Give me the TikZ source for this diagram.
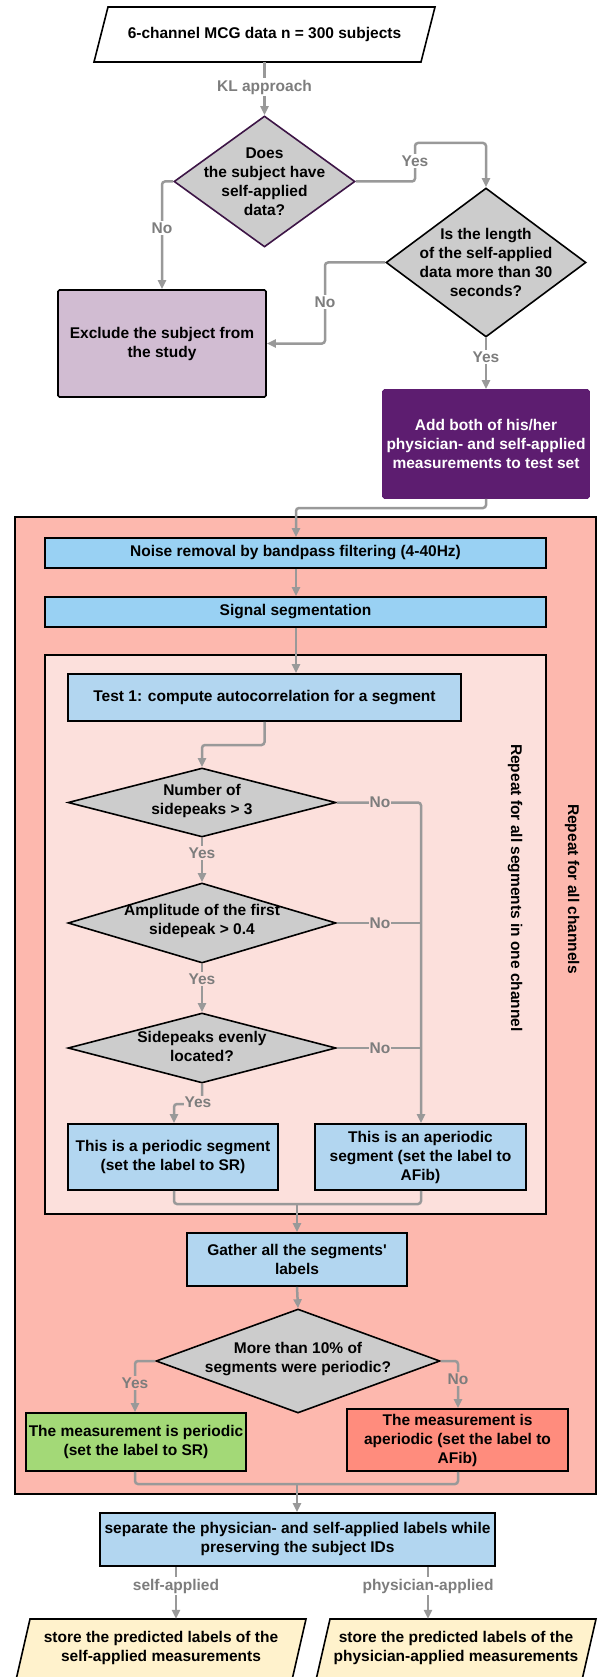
\documentclass[tikz,border=0pt]{standalone}
\usepackage{fontspec}
\setmainfont{Liberation Sans}
\usetikzlibrary{arrows.meta,shapes.geometric,calc}
\definecolor{linegray}{RGB}{153,153,153}
\definecolor{labelgray}{RGB}{125,125,125}
\definecolor{dfill}{RGB}{204,204,204}
\definecolor{dborder}{HTML}{3D1546}
\definecolor{exfill}{HTML}{D1BCD2}
\definecolor{purp}{HTML}{5D1D70}
\definecolor{outerfill}{HTML}{FDB8AE}
\definecolor{innerfill}{HTML}{FCE0DC}
\definecolor{nrfill}{HTML}{99D1F3}
\definecolor{bluefill}{HTML}{B2D6F0}
\definecolor{grfill}{HTML}{A3D977}
\definecolor{rdfill}{HTML}{FF8C7D}
\definecolor{cream}{HTML}{FFF2CC}
\newcommand\myfont{\fontsize{15.5}{19}\selectfont\bfseries}
\begin{document}
\begin{tikzpicture}[x=1pt,y=-1pt,
  conn/.style={draw=linegray,line width=2.5pt,rounded corners=3pt},
  arr/.style={conn,-{Triangle[length=9pt,width=8pt]}},
  lbl/.style={text=labelgray,font=\myfont,inner sep=1.5pt,fill=white},
  box/.style={draw=black,line width=1.6pt,inner sep=0pt,align=center,font=\myfont,rounded corners=1.5pt},
  dia/.style={diamond,draw=black,line width=1.6pt,fill=dfill,inner sep=0pt},
  txt/.style={align=center,font=\myfont,inner sep=0pt},
  frame/.style={draw=black,line width=1.6pt,inner sep=0pt},
]
\useasboundingbox (0,0) rectangle (598,1677);
% containers
\node[frame,fill=outerfill,minimum width=581,minimum height=977] (outer) at (305.5,1005.5) {};
\node[frame,fill=innerfill,minimum width=501,minimum height=559] (inner) at (295.5,934.5) {};
\node[txt,rotate=-90] (rl1) at (515,888) {Repeat for all segments in one channel};
\node[txt,rotate=-90] (rl2) at (572,889) {Repeat for all channels};

% top input
\draw[line width=1.6pt,fill=white] (108,7) -- (435,7) -- (421,62) -- (94,62) -- cycle;
\node[txt,minimum width=327,minimum height=55] (in) at (264.5,34.5) {6-channel MCG data n = 300 subjects};

% decisions top
\node[dia,draw=dborder,minimum width=181,minimum height=131] (d1) at (264.5,181.5) {};
\node[txt] (d1t) at (d1.center) {Does\\the subject have\\self-applied\\data?};
\node[dia,minimum width=200,minimum height=149] (d2) at (486,262.5) {};
\node[txt] (d2t) at (d2.center) {Is the length\\of the self-applied\\data more than 30\\seconds?};
\node[box,fill=exfill,minimum width=208,minimum height=107] (ex) at (162,343.5) {Exclude the subject from\\the study};
\node[box,fill=purp,draw=purp,text=white,minimum width=206,minimum height=108] (add) at (486,444) {Add both of his/her\\physician- and self-applied\\measurements to test set};

% processing
\node[box,fill=nrfill,rounded corners=0pt,minimum width=501,minimum height=30] (nr) at (295.5,553) {Noise removal by bandpass filtering (4-40Hz)};
\node[box,fill=nrfill,rounded corners=0pt,minimum width=501,minimum height=30] (ss) at (295.5,612) {Signal segmentation};
\node[box,fill=bluefill,rounded corners=0pt,minimum width=393,minimum height=47] (t1) at (264.5,697.5) {Test 1: compute autocorrelation for a segment};
\node[dia,minimum width=268,minimum height=69] (d3) at (202,802.5) {};
\node[txt] (d3t) at (202,801) {Number of\\sidepeaks > 3};
\node[dia,minimum width=268,minimum height=80] (d4) at (202,923) {};
\node[txt] (d4t) at (202,921) {Amplitude of the first\\sidepeak > 0.4};
\node[dia,minimum width=268,minimum height=70] (d5) at (202,1048) {};
\node[txt] (d5t) at (202,1046) {Sidepeaks evenly\\located?};
\node[box,fill=bluefill,rounded corners=0pt,minimum width=210,minimum height=66] (per) at (173,1157) {This is a periodic segment\\(set the label to SR)};
\node[box,fill=bluefill,rounded corners=0pt,minimum width=211,minimum height=66] (aper) at (420.5,1157) {This is an aperiodic\\segment (set the label to\\AFib)};
\node[box,fill=bluefill,rounded corners=0pt,minimum width=220,minimum height=53] (ga) at (297,1259.5) {Gather all the segments\textquotesingle\\labels};
\node[dia,minimum width=284,minimum height=104] (d6) at (298,1361) {};
\node[txt] (d6t) at (298,1359) {More than 10\% of\\segments were periodic?};
\node[box,fill=grfill,rounded corners=0pt,minimum width=220,minimum height=58] (gr) at (136,1442) {The measurement is periodic\\(set the label to SR)};
\node[box,fill=rdfill,rounded corners=0pt,minimum width=221,minimum height=62] (rd) at (457.5,1440) {The measurement is\\aperiodic (set the label to\\AFib)};
\node[box,fill=bluefill,rounded corners=0pt,minimum width=395,minimum height=53] (sep) at (297.5,1539.5) {separate the physician- and self-applied labels while\\preserving the subject IDs};

% outputs
\draw[line width=1.6pt,fill=cream] (30,1619) -- (306,1619) -- (292,1680) -- (16,1680) -- cycle;
\node[txt,minimum width=262,minimum height=58] (o1) at (161,1648) {store the predicted labels of the\\self-applied measurements};
\draw[line width=1.6pt,fill=cream] (330,1619) -- (596,1619) -- (582,1680) -- (316,1680) -- cycle;
\node[txt,minimum width=262,minimum height=58] (o2) at (456,1648) {store the predicted labels of the\\physician-applied measurements};

% helper coordinates
\coordinate (c1) at (415,143);
\coordinate (c2) at (162,0);
\coordinate (c3) at (325,0);
\coordinate (c4) at (296,508);
\coordinate (c5) at (202,745);
\coordinate (c6) at (421,0);
\coordinate (c7) at (174,1104);
\coordinate (m1) at (297,1204);
\coordinate (c8) at (135,0);
\coordinate (c9) at (458,0);
\coordinate (m2) at (297,1484);
\coordinate (s1) at (176,0);
\coordinate (s2) at (428,0);

% connectors
\draw[arr] (in.south) -- (d1.north);
\node[lbl] (l1) at (264.5,87) {KL approach};
\draw[arr] (d1.east) -| (c1) -| (d2.north);
\node[lbl] (l2) at (415,161) {Yes};
\draw[arr] (d1.west) -| (ex.north -| c2);
\node[lbl] (l3) at (162,228) {No};
\draw[arr] (d2.west) -| (ex.east -| c3) -- (ex.east);
\node[lbl] (l4) at (325,302) {No};
\draw[arr] (d2.south) -- (add.north);
\node[lbl] (l5) at (486,357) {Yes};
\draw[arr] (add.south) |- (c4) -- (nr.north -| c4);
\draw[arr] (nr.south -| c4) -- (ss.north -| c4);
\draw[arr] (ss.south -| c4) -- (t1.north -| c4);
\draw[arr] (t1.south) |- (c5) -- (d3.north);
\draw[arr] (d3.south) -- (d4.north);
\node[lbl,fill=innerfill] (l6) at (202,853) {Yes};
\draw[arr] (d4.south) -- (d5.north);
\node[lbl,fill=innerfill] (l7) at (202,979) {Yes};
\draw[arr] (d3.east) -| (aper.north -| c6);
\draw[conn] (d4.east) -- (d4.east -| c6);
\draw[conn] (d5.east) -- (d5.east -| c6);
\node[lbl,fill=innerfill,inner sep=0.5pt] (l8) at (380,802.5) {No};
\node[lbl,fill=innerfill,inner sep=0.5pt] (l9) at (380,923) {No};
\node[lbl,fill=innerfill,inner sep=0.5pt] (l10) at (380,1048) {No};
\draw[arr] (d5.south) |- (c7) -- (per.north -| c7);
\node[lbl,fill=innerfill,inner sep=0.5pt] (l11) at (198,1102) {Yes};
\draw[conn] (per.south -| c7) |- (m1) -| (aper.south -| c6);
\draw[arr] (m1) -- (ga.north);
\draw[arr] (ga.south) -- (d6.north);
\draw[arr] (d6.west) -| (gr.north -| c8);
\node[lbl,fill=outerfill] (l12) at (135,1383) {Yes};
\draw[arr] (d6.east) -| (rd.north -| c9);
\node[lbl,fill=outerfill] (l13) at (458,1379) {No};
\draw[conn] (gr.south -| c8) |- (m2) -| (rd.south -| c9);
\draw[arr] (m2) -- (sep.north -| m2);
\draw[arr] (sep.south -| s1) -- (o1.north -| s1);
\node[lbl] (l14) at (176,1586) {self-applied};
\draw[arr] (sep.south -| s2) -- (o2.north -| s2);
\node[lbl] (l15) at (428,1586) {physician-applied};
\end{tikzpicture}
\end{document}
